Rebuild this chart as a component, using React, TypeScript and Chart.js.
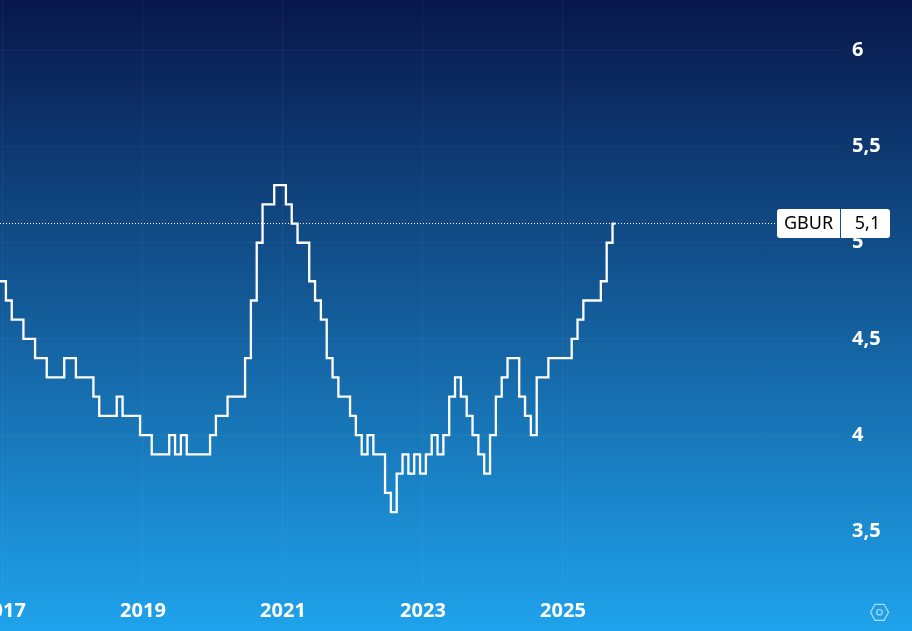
import React, { useEffect, useRef } from "react";
import { Chart, registerables } from "chart.js";

Chart.register(...registerables);

const firstMonthIndex = -1; // month index of the first value; 0 is January 2017
const monthsPerYear = 12;
const baseYear = 2017;
const tickYears = [2017, 2019, 2021, 2023, 2025];
const yTicks = [3.5, 4, 4.5, 5, 5.5, 6];
const seriesName = "GBUR";
const lastLabel = "5,1";

const values = [
  4.8, 4.8, 4.7, 4.6, 4.6, 4.5, 4.5, 4.4, 4.4, 4.3, 4.3, 4.3, 4.4, 4.4, 4.3, 4.3, 4.3, 4.2,
  4.1, 4.1, 4.1, 4.2, 4.1, 4.1, 4.1, 4.0, 4.0, 3.9, 3.9, 3.9, 4.0, 3.9, 4.0, 3.9, 3.9, 3.9,
  3.9, 4.0, 4.1, 4.1, 4.2, 4.2, 4.2, 4.4, 4.7, 5.0, 5.2, 5.2, 5.3, 5.3, 5.2, 5.1, 5.0, 5.0,
  4.8, 4.7, 4.6, 4.4, 4.3, 4.2, 4.2, 4.1, 4.0, 3.9, 4.0, 3.9, 3.9, 3.7, 3.6, 3.8, 3.9, 3.8,
  3.9, 3.8, 3.9, 4.0, 3.9, 4.0, 4.2, 4.3, 4.2, 4.1, 4.0, 3.9, 3.8, 4.0, 4.2, 4.3, 4.4, 4.4,
  4.2, 4.1, 4.0, 4.3, 4.3, 4.4, 4.4, 4.4, 4.4, 4.5, 4.6, 4.7, 4.7, 4.7, 4.8, 5.0, 5.1,
];

const xMin = -0.514;
const xMax = 143.5;
const yMin = 3.195;
const yMax = 6.262;
const lastValue = values[values.length - 1];
const dottedEnd = 132.7;

const font = "'Noto Sans', sans-serif";

const overlay = {
  id: "overlay",
  afterDatasetsDraw(chart: any) {
    const { ctx } = chart;
    const y = chart.scales.y.getPixelForValue(lastValue);
    const top = Math.round(y) - 15;
    ctx.save();
    ctx.fillStyle = "#ffffff";
    ctx.beginPath();
    ctx.roundRect(777, top, 113, 29, 3);
    ctx.fill();
    ctx.fillStyle = "#125288";
    ctx.fillRect(840, top, 1, 29);
    ctx.fillStyle = "#000000";
    ctx.font = `18px ${font}`;
    ctx.textAlign = "center";
    ctx.textBaseline = "middle";
    ctx.fillText(seriesName, 808.5, top + 15);
    ctx.fillText(lastLabel, 867.5, top + 15);
    ctx.strokeStyle = "rgba(255,255,255,0.65)";
    ctx.lineWidth = 1.2;
    const cx = 879.5;
    const cy = 612.3;
    ctx.beginPath();
    ctx.moveTo(cx - 9, cy);
    ctx.lineTo(cx - 4.5, cy - 8);
    ctx.lineTo(cx + 4.5, cy - 8);
    ctx.lineTo(cx + 9, cy);
    ctx.lineTo(cx + 4.5, cy + 8);
    ctx.lineTo(cx - 4.5, cy + 8);
    ctx.closePath();
    ctx.stroke();
    ctx.beginPath();
    ctx.arc(cx, cy, 2.8, 0, Math.PI * 2);
    ctx.stroke();
    ctx.restore();
  },
};

export default function App() {
  const ref = useRef<HTMLCanvasElement>(null);
  useEffect(() => {
    document.body.style.margin = "0";
    const chart = new Chart(ref.current!, {
      type: "line",
      plugins: [overlay],
      data: {
        datasets: [
          {
            data: values.map((v, i) => ({ x: i + firstMonthIndex, y: v })),
            borderColor: "#ffffff",
            borderWidth: 2.3,
            stepped: "middle",
            pointRadius: 0,
            borderCapStyle: "butt",
            borderJoinStyle: "miter",
          },
          {
            data: [
              { x: xMin, y: lastValue },
              { x: dottedEnd, y: lastValue },
            ],
            borderColor: "rgba(255,255,255,1)",
            borderWidth: 1,
            borderDash: [1, 2],
            pointRadius: 0,
          },
        ],
      },
      options: {
        animation: false,
        responsive: false,
        layout: { padding: 0 },
        plugins: { legend: { display: false }, tooltip: { enabled: false } },
        scales: {
          x: {
            type: "linear",
            min: xMin,
            max: xMax,
            afterBuildTicks(scale: any) {
              scale.ticks = tickYears.map((year) => ({
                value: (year - baseYear) * monthsPerYear,
              }));
            },
            afterFit(scale: any) {
              scale.height = 41;
              scale.paddingLeft = 0;
              scale.paddingRight = 0;
            },
            border: { display: false },
            grid: { color: "rgba(255,255,255,0.045)", drawTicks: false, lineWidth: 1 },
            ticks: {
              autoSkip: false,
              maxRotation: 0,
              padding: 9,
              color: "#ffffff",
              font: { family: font, size: 20, weight: 700 },
              callback: (v: any) => String(baseYear + Number(v) / monthsPerYear),
            },
          },
          y: {
            type: "linear",
            position: "right",
            min: yMin,
            max: yMax,
            afterBuildTicks(scale: any) {
              scale.ticks = yTicks.map((value) => ({ value }));
            },
            afterFit(scale: any) {
              scale.width = 72;
              scale.paddingTop = 0;
              scale.paddingBottom = 0;
            },
            border: { display: false },
            grid: { color: "rgba(255,255,255,0.045)", drawTicks: false, lineWidth: 1 },
            ticks: {
              autoSkip: false,
              crossAlign: "near",
              padding: 12,
              color: "#ffffff",
              font: { family: font, size: 20, weight: 700 },
              callback: (v: any) => String(v).replace(".", ","),
            },
          },
        },
      },
    } as any);
    return () => chart.destroy();
  }, []);
  return (
    <div
      style={{
        position: "absolute",
        left: 0,
        top: 0,
        width: 912,
        height: 631,
        overflow: "hidden",
        background: "linear-gradient(180deg, #08174a 0%, #1fa3ec 100%)",
      }}
    >
      <canvas ref={ref} width={912} height={631} style={{ display: "block" }} />
    </div>
  );
}
